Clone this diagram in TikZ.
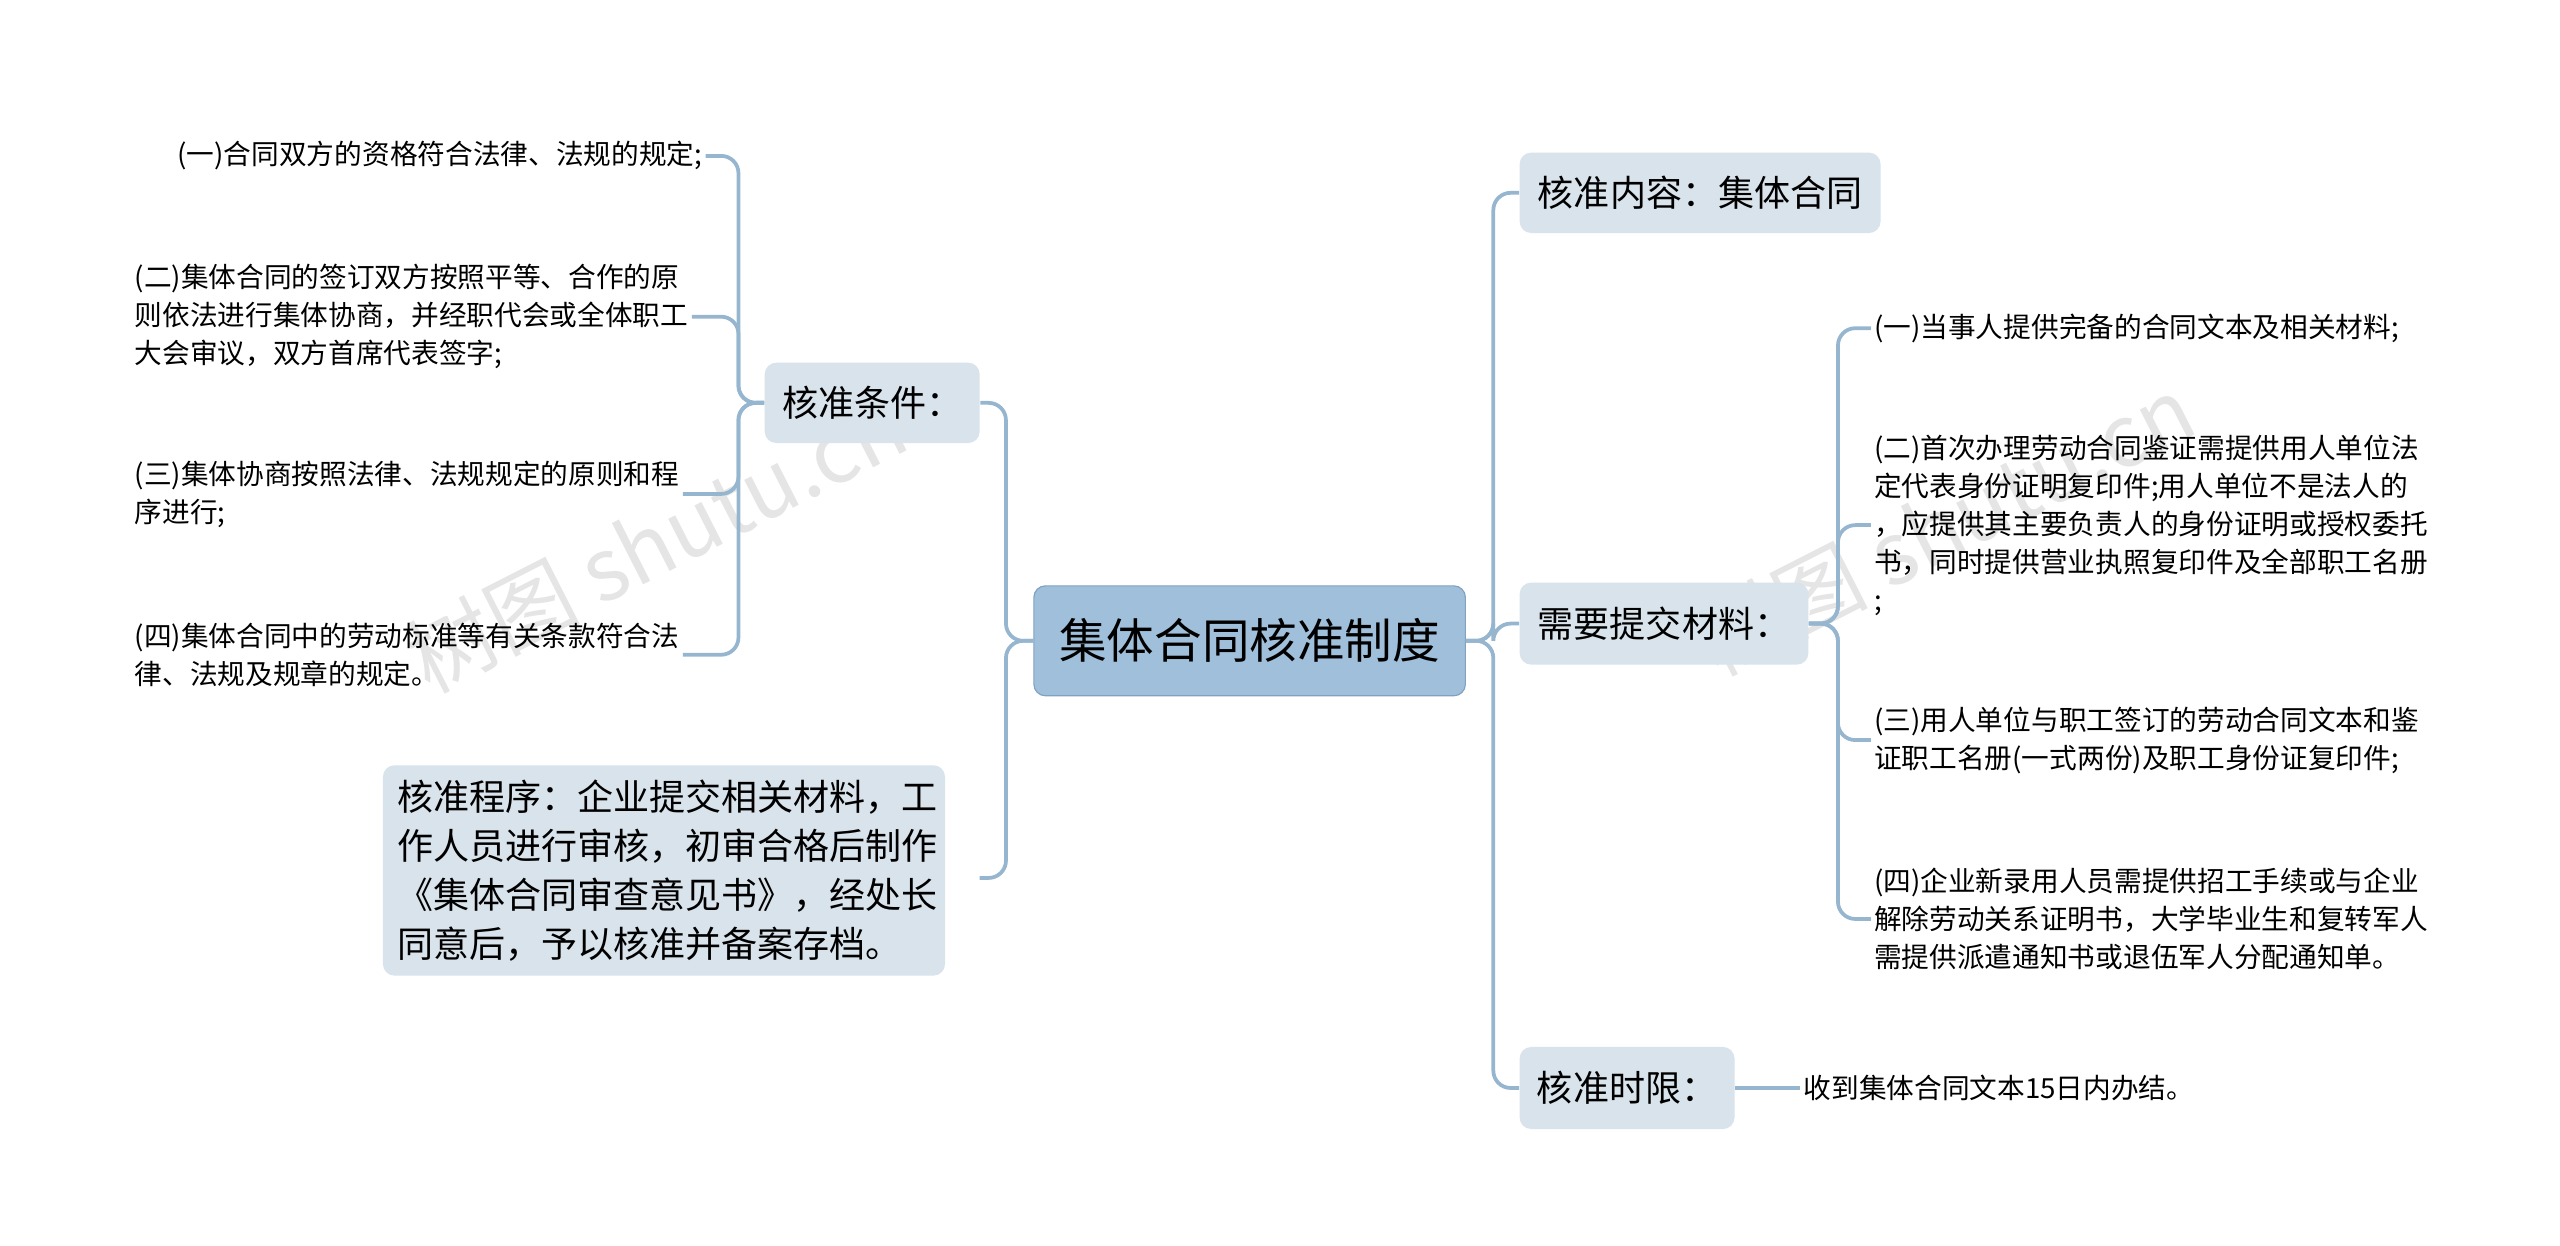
\documentclass[tikz,border=0pt]{standalone}
\usepackage{fontspec}
\setmainfont{Noto Sans CJK SC}
\definecolor{myline}{RGB}{150,182,208}
\definecolor{myroot}{RGB}{160,191,218}
\definecolor{myrootb}{RGB}{128,162,192}
\definecolor{mybranch}{RGB}{217,227,235}
\usetikzlibrary{positioning}
\tikzset{
  root/.style={draw=myrootb,fill=myroot,rounded corners=4pt,minimum width=5.26cm,minimum height=1.34cm,font=\fontsize{16.5}{20}\selectfont},
  branch/.style={fill=mybranch,rounded corners=4pt,inner sep=5pt,font=\fontsize{12.5}{17}\selectfont,align=left},
  leaf/.style={inner sep=1pt,font=\fontsize{9.6}{13.2}\selectfont,align=left},
  link/.style={draw=myline,line width=1.3pt,rounded corners=6pt},
  wmark/.style={font=\fontsize{30}{30}\selectfont,text=black!10,rotate=27}
}
\begin{document}
\begin{tikzpicture}[x=0.02cm,y=-0.02cm]
\useasboundingbox (0,0) rectangle (1560,759);
% watermarks
\node[wmark] (w1) at (400,330) {树图 shutu.cn};
\node[wmark] (w2) at (1185,320) {树图 shutu.cn};
% root
\node[root] (r) at (761.5,390.5) {集体合同核准制度};
% left side
\node[branch,minimum width=2.62cm,minimum height=0.98cm] (tj) at (531.5,245.5) {核准条件：};
\node[branch,text width=6.5cm,anchor=north west] (cx) at (233,466) {核准程序：企业提交相关材料，工\\作人员进行审核，初审合格后制作\\《集体合同审查意见书》，经处长\\同意后，予以核准并备案存档。};
\node[leaf,anchor=east] (l1) at (430,95) {(一)合同双方的资格符合法律、法规的规定;};
\node[leaf,anchor=west] (l2) at (80,193) {(二)集体合同的签订双方按照平等、合作的原\\则依法进行集体协商，并经职代会或全体职工\\大会审议，双方首席代表签字;};
\node[leaf,anchor=west] (l3) at (80,301) {(三)集体协商按照法律、法规规定的原则和程\\序进行;};
\node[leaf,anchor=west] (l4) at (80,399) {(四)集体合同中的劳动标准等有关条款符合法\\律、法规及规章的规定。};
% right side
\node[branch,minimum width=4.4cm,minimum height=0.98cm] (nr) at (1036,117.5) {核准内容：集体合同};
\node[branch,minimum width=3.52cm,minimum height=1cm] (cl) at (1014,380) {需要提交材料：};
\node[branch,minimum width=2.62cm,minimum height=1cm] (sx) at (991.5,663) {核准时限：};
\node[leaf,anchor=west] (m1) at (1140,200) {(一)当事人提供完备的合同文本及相关材料;};
\node[leaf,anchor=west] (m2) at (1140,320) {(二)首次办理劳动合同鉴证需提供用人单位法\\定代表身份证明复印件;用人单位不是法人的\\，应提供其主要负责人的身份证明或授权委托\\书，同时提供营业执照复印件及全部职工名册\\;};
\node[leaf,anchor=west] (m3) at (1140,451) {(三)用人单位与职工签订的劳动合同文本和鉴\\证职工名册(一式两份)及职工身份证复印件;};
\node[leaf,anchor=west] (m4) at (1140,560) {(四)企业新录用人员需提供招工手续或与企业\\解除劳动关系证明书，大学毕业生和复转军人\\需提供派遣通知书或退伍军人分配通知单。};
\node[leaf,anchor=west] (t1) at (1097,663) {收到集体合同文本15日内办结。};
% connectors
\draw[link] (r.west) -- (613,390.5) |- (tj.east);
\draw[link] (r.west) -- (613,390.5) |- (597,535);
\foreach \l in {l1,l2,l3,l4}
  \draw[link] (tj.west) -- (450,245.5) |- (\l.east);
\draw[link] (r.east) -- (910,390.5) |- (nr.west);
\draw[link] (r.east) -- (910,390.5) |- (cl.west);
\draw[link] (r.east) -- (910,390.5) |- (sx.west);
\foreach \m in {m1,m2,m3,m4}
  \draw[link] (cl.east) -- (1120,380) |- (\m.west);
\draw[link] (sx.east) -- (t1.west);
\end{tikzpicture}
\end{document}
